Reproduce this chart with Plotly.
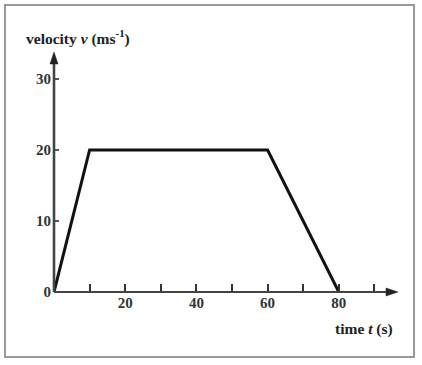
import plotly.graph_objects as go

time_s = [0, 10, 60, 80]
velocity = [0, 20, 20, 0]
x_tickvals = [20, 40, 60, 80]
x_ticktext = ["20", "40", "60", "80"]
y_tickvals = [0, 10, 20, 30]
y_ticktext = ["0", "10", "20", "30"]

W, H = 422, 365
L, R, T, B = 54, 22, 50, 73
pw, ph = W - L - R, H - T - B
SX, SY = 3.56, 7.1  # px per unit
xmax = pw / SX
ymax = ph / SY

def px(x):
    return (x - L) / pw

def py(y):
    return (H - B - y) / ph

fig = go.Figure()
fig.add_trace(go.Scatter(x=time_s, y=velocity, mode="lines",
                         line=dict(color="#111", width=3), cliponaxis=False,
                         hoverinfo="skip"))

tf = dict(family="Liberation Serif", size=15, color="#333")
fig.update_layout(
    width=W, height=H, margin=dict(l=L, r=R, t=T, b=B),
    paper_bgcolor="white", plot_bgcolor="white", showlegend=False,
    xaxis=dict(range=[0, xmax], showgrid=False, zeroline=False, showline=False,
               tickmode="array", tickvals=x_tickvals,
               ticktext=["<b>%s</b>" % t for t in x_ticktext],
               ticks="inside", ticklen=8, tickwidth=1.5, tickcolor="#333",
               tickfont=tf, ticklabelstandoff=0,
               minor=dict(ticks="inside", ticklen=8, tickwidth=1.5, tickcolor="#333",
                          tick0=10, dtick=10, showgrid=False)),
    yaxis=dict(range=[0, ymax], showgrid=False, zeroline=False, showline=False,
               tickmode="array", tickvals=y_tickvals,
               ticktext=["<b>%s</b>" % t for t in y_ticktext],
               ticks="inside", ticklen=5, tickwidth=1.5, tickcolor="#555",
               tickfont=tf, ticklabelstandoff=2),
)

# axis lines with arrowheads (paper-referenced shapes, in pixel terms)
ac = "#444"
ox, oy = 54, 292
xt, yt = 398, 52
fig.add_shape(type="line", xref="paper", yref="paper", x0=px(ox), y0=py(oy), x1=px(xt - 8), y1=py(oy),
              line=dict(color=ac, width=2.2))
fig.add_shape(type="line", xref="paper", yref="paper", x0=px(ox), y0=py(oy), x1=px(ox), y1=py(yt + 8),
              line=dict(color=ac, width=2.6))
fig.add_shape(type="path", xref="paper", yref="paper",
              path="M %f,%f L %f,%f L %f,%f Z" % (px(xt), py(oy), px(xt - 12), py(oy - 4), px(xt - 12), py(oy + 4)),
              fillcolor="#222", line=dict(color="#222", width=0.5))
fig.add_shape(type="path", xref="paper", yref="paper",
              path="M %f,%f L %f,%f L %f,%f Z" % (px(ox), py(yt), px(ox + 4), py(yt + 12), px(ox - 4), py(yt + 12)),
              fillcolor="#222", line=dict(color="#222", width=0.5))

# axis titles
fig.add_annotation(x=px(24), y=py(37), xref="paper", yref="paper", xanchor="left", yanchor="middle",
                   showarrow=False, font=dict(family="Liberation Serif", size=15.5, color="#222"),
                   text="<b>velocity <i>v</i> (ms<sup>-1</sup>)</b>")
fig.add_annotation(x=px(395), y=py(329), xref="paper", yref="paper", xanchor="right", yanchor="middle",
                   showarrow=False, font=dict(family="Liberation Serif", size=15.5, color="#222"),
                   text="<b>time <i>t</i> (s)</b>")

# frame
fig.add_shape(type="rect", xref="paper", yref="paper",
              x0=px(5), x1=px(414), y0=py(357), y1=py(5),
              line=dict(color="#999", width=2), fillcolor="rgba(0,0,0,0)")

fig.write_html("out.html")
